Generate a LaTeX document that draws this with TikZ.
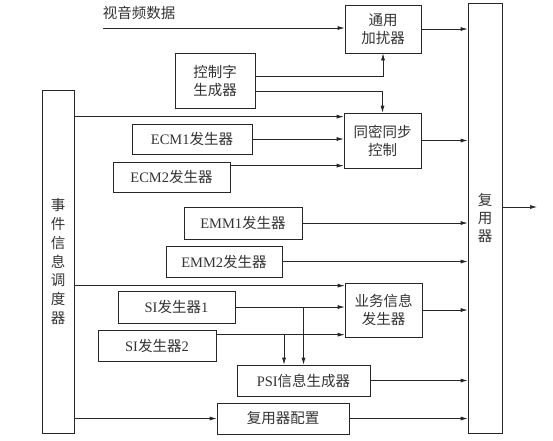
\documentclass[tikz,border=0pt]{standalone}
\usepackage{fontspec}
\setmainfont{Liberation Serif}
\newfontfamily\cjk{Noto Sans CJK SC}
\usetikzlibrary{arrows.meta}

\begin{document}
\begin{tikzpicture}[x=1pt, y=-1pt,
  box/.style={draw=black!85, line width=0.7pt, inner sep=0pt, align=center},
  arr/.style={draw=black!85, line width=0.7pt, -{Latex[length=7pt, width=4pt]}},
  font=\cjk\fontsize{14.5}{18}\selectfont, text=black!80]
  \useasboundingbox (0,0) rectangle (553,440);
  % multiplexer at right, scheduler at left
  \node[box, minimum width=34pt, minimum height=430pt] (mux) at (485,218)
    {\raisebox{7pt}{\parbox{1.2em}{\centering 复\\用\\器}}};
  \node[box, minimum width=32pt, minimum height=343pt] (sched) at (58,261.5)
    {\raisebox{5pt}{\parbox{1.2em}{\centering\baselineskip=18.8pt 事\\件\\信\\息\\调\\度\\器}}};
  % scrambling part
  \node (avtxt) at (139,13) {视音频数据};
  \coordinate (avin) at (103,28);
  \node[box, minimum width=76pt, minimum height=48pt] (scr) at (383,29) {通用\\加扰器};
  \node[box, minimum width=80pt, minimum height=55pt] (cw) at (215,80.5) {控制字\\生成器};
  \node[box, minimum width=77pt, minimum height=55pt] (scs) at (382.5,140.5) {同密同步\\控制};
  \node[box, minimum width=120pt, minimum height=30pt] (ecm1) at (192,139) {{\rmfamily ECM1}发生器};
  \node[box, minimum width=117pt, minimum height=30pt] (ecm2) at (171.5,177) {{\rmfamily ECM2}发生器};
  \node[box, minimum width=118pt, minimum height=32pt] (emm1) at (243,223) {{\rmfamily EMM1}发生器};
  \node[box, minimum width=116pt, minimum height=31pt] (emm2) at (224,261.5) {{\rmfamily EMM2}发生器};
  % service information part
  \node[box, minimum width=77pt, minimum height=54pt] (svc) at (383.5,310) {业务信息\\发生器};
  \node[box, minimum width=117pt, minimum height=32pt] (si1) at (176.5,307) {{\rmfamily SI}发生器{\rmfamily 1}};
  \node[box, minimum width=118pt, minimum height=31pt] (si2) at (157,345.5) {{\rmfamily SI}发生器{\rmfamily 2}};
  \node[box, minimum width=133pt, minimum height=31pt] (psi) at (303.5,380.5) {{\rmfamily PSI}信息生成器};
  \node[box, minimum width=132pt, minimum height=31pt] (cfg) at (283,418.5) {复用器配置};
  % connectors
  \draw[arr] (avin) -- (avin -| scr.west);
  \draw[arr] (scr.east) -- (scr.east -| mux.west);
  \draw[arr] ([yshift=4.5pt]cw.east) -| (scr.south);
  \draw[arr] ([yshift=-10.5pt]cw.east) -| (scs.north);
  \coordinate (s1) at ([yshift=-4pt]scs.north west);
  \draw[arr] (sched.east |- s1) -- (s1);
  \draw[arr] (ecm1.east) -- (ecm1.east -| scs.west);
  \coordinate (e2) at ([yshift=-4pt]ecm2.north east);
  \draw[arr] (e2) -- (e2 -| scs.west);
  \draw[arr] (scs.east) -- (scs.east -| mux.west);
  \draw[arr] (emm1.east) -- (emm1.east -| mux.west);
  \draw[arr] (emm2.east) -- (emm2.east -| mux.west);
  \coordinate (s2) at ([yshift=-3pt]svc.north west);
  \draw[arr] (sched.east |- s2) -- (s2);
  \draw[arr] (si1.east) -- (si1.east -| svc.west);
  \coordinate (s3) at ([yshift=-5pt]si2.north east);
  \draw[arr] (s3) -- (s3 -| svc.west);
  \draw[arr] (svc.east) -- (svc.east -| mux.west);
  \draw[arr] (si1.east -| psi.north) -- (psi.north);
  \coordinate (p2) at ([xshift=-19.5pt]psi.north);
  \draw[arr] (p2 |- s3) -- (p2);
  \draw[arr] (psi.east) -- (psi.east -| mux.west);
  \draw[arr] (sched.east |- cfg.west) -- (cfg.west);
  \draw[arr] (cfg.east) -- (cfg.east -| mux.west);
  \coordinate (out) at (537,207);
  \draw[arr] (mux.east |- out) -- (out);
\end{tikzpicture}
\end{document}
